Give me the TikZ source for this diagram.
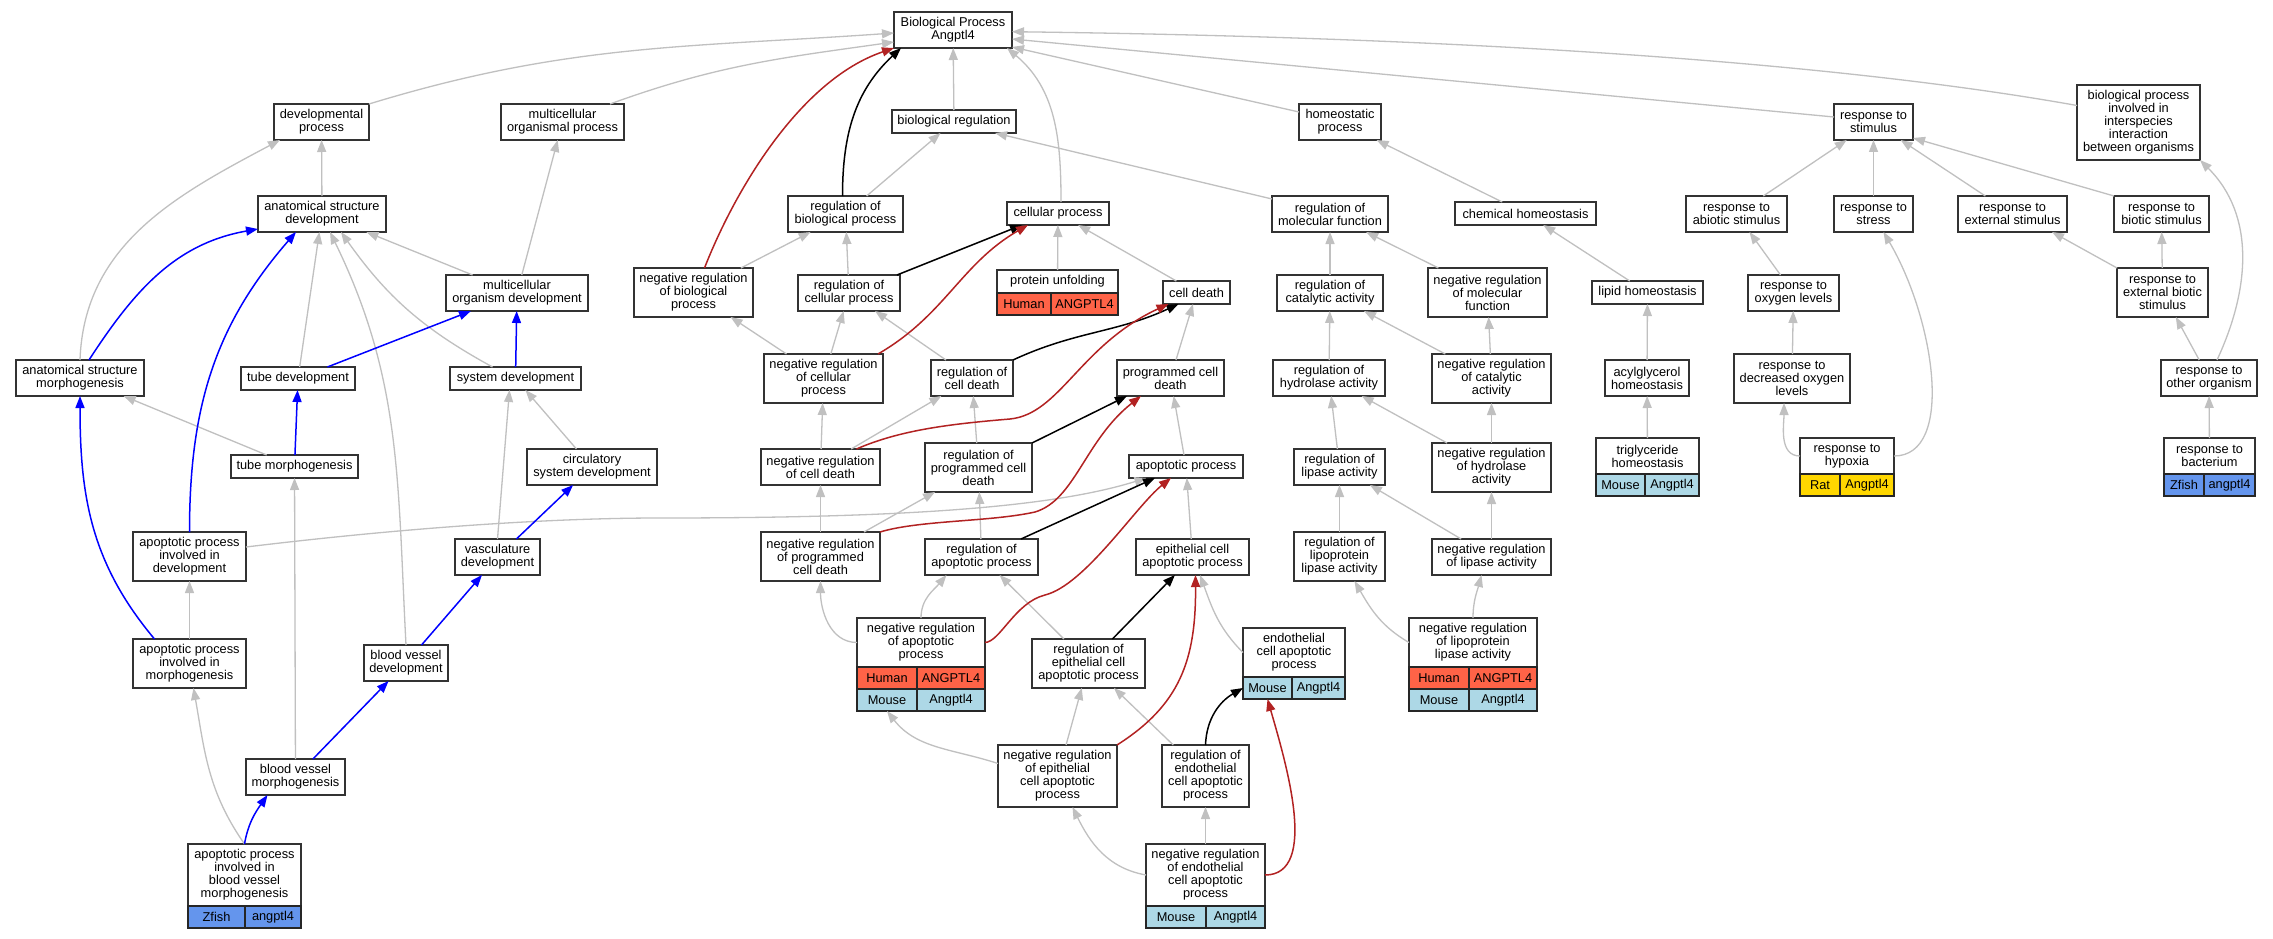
\documentclass[tikz,border=0pt]{standalone}
\usepackage{fontspec}
\setmainfont{Liberation Sans}
\usepackage{xcolor}
\usetikzlibrary{calc, arrows.meta}

\definecolor{edgegray}{RGB}{192,192,192}
\definecolor{negred}{RGB}{178,34,34}
\definecolor{humanfill}{RGB}{255,99,71}
\definecolor{mousefill}{RGB}{173,216,230}
\definecolor{zfishfill}{RGB}{100,149,237}
\definecolor{ratfill}{RGB}{255,215,0}
\newcommand{\lbl}{\fontsize{12.8}{13}\selectfont}

\tikzset{
  term/.style 2 args={draw=black!80, line width=2pt, fill=white, align=center,
    inner xsep=2pt, inner ysep=1pt, outer sep=0pt,
    minimum height={10+13*#1}, minimum width=#2, font=\lbl},
  gene/.style 2 args={draw=black!85, line width=2pt, fill=#1, minimum width=#2,
    minimum height=22, inner sep=0pt, outer sep=0pt, anchor=north west, font=\lbl},
  isa/.style={draw=edgegray, line width=1.3pt, -{Triangle[length=12pt,width=9pt]}},
  partof/.style={draw=blue, line width=1.5pt, -{Triangle[length=12pt,width=9pt]}},
  reg/.style={draw=black, line width=1.5pt, -{Triangle[length=12pt,width=9pt]}},
  negreg/.style={draw=negred, line width=1.5pt, -{Triangle[length=12pt,width=9pt]}}
}

\begin{document}
\begin{tikzpicture}[x=1pt, y=1pt]
\path[use as bounding box, fill=white] (0,0) rectangle (2273,-939);

\node[term={2}{118}] (bp) at (953,-30) {Biological Process\\Angptl4};

\node[term={2}{95}]  (devproc) at (321.5,-122) {developmental\\process};
\node[term={2}{123}] (mop) at (562.5,-122) {multicellular\\organismal process};
\node[term={1}{124}] (breg) at (954,-121.5) {biological regulation};
\node[term={2}{82}]  (homeo) at (1340,-122) {homeostatic\\process};
\node[term={2}{79}]  (rstim) at (1873.5,-122) {response to\\stimulus};
\node[term={5}{123}] (inter) at (2138.5,-122.5) {biological process\\involved in\\interspecies\\interaction\\between organisms};

\node[term={2}{128}] (asd) at (322,-214) {anatomical structure\\development};
\node[term={2}{115}] (rbp) at (845.5,-214) {regulation of\\biological process};
\node[term={1}{102}] (cellproc) at (1058,-213.5) {cellular process};
\node[term={2}{116}] (rmf) at (1330,-214) {regulation of\\molecular function};
\node[term={1}{141}] (chemhom) at (1525.5,-213.5) {chemical homeostasis};
\node[term={2}{101}] (rabio) at (1736.5,-214) {response to\\abiotic stimulus};
\node[term={2}{79}]  (rstress) at (1873.5,-214) {response to\\stress};
\node[term={2}{109}] (rext) at (2012.5,-214) {response to\\external stimulus};
\node[term={2}{95}]  (rbio) at (2161.5,-214) {response to\\biotic stimulus};

\node[term={2}{142}] (mod) at (517,-293) {multicellular\\organism development};
\node[term={3}{119}] (nrbp) at (693.5,-292.5) {negative regulation\\of biological\\process};
\node[term={2}{102}] (rcp) at (849,-293) {regulation of\\cellular process};
\node[term={1}{121}] (pu) at (1057.5,-281.5) {protein unfolding};
\node[term={1}{67}]  (celldeath) at (1196.5,-292.5) {cell death};
\node[term={2}{106}] (rca) at (1330,-293) {regulation of\\catalytic activity};
\node[term={3}{119}] (nrmf) at (1487.5,-292.5) {negative regulation\\of molecular\\function};
\node[term={1}{111}] (lipid) at (1647.5,-292.5) {lipid homeostasis};
\node[term={2}{91}]  (roxy) at (1793.5,-293) {response to\\oxygen levels};
\node[term={3}{91}]  (rebs) at (2162.5,-292.5) {response to\\external biotic\\stimulus};

\node[term={2}{128}] (asm) at (80,-378) {anatomical structure\\morphogenesis};
\node[term={1}{114}] (tubedev) at (298,-378.5) {tube development};
\node[term={1}{131}] (sysdev) at (515.5,-378.5) {system development};
\node[term={3}{119}] (nrcp) at (823.5,-378.5) {negative regulation\\of cellular\\process};
\node[term={2}{82}]  (rcd) at (972,-378) {regulation of\\cell death};
\node[term={2}{107}] (pcd) at (1170.5,-378) {programmed cell\\death};
\node[term={2}{112}] (rha) at (1329,-378) {regulation of\\hydrolase activity};
\node[term={3}{119}] (nrca) at (1491.5,-378.5) {negative regulation\\of catalytic\\activity};
\node[term={2}{84}]  (acyl) at (1647,-378) {acylglycerol\\homeostasis};
\node[term={3}{116}] (rdox) at (1792,-378.5) {response to\\decreased oxygen\\levels};
\node[term={2}{96}]  (rother) at (2209,-378) {response to\\other organism};

\node[term={1}{127}] (tubemorph) at (294.5,-466.5) {tube morphogenesis};
\node[term={2}{130}] (circ) at (592,-467) {circulatory\\system development};
\node[term={2}{119}] (nrcd) at (820.5,-467) {negative regulation\\of cell death};
\node[term={3}{107}] (rpcd) at (978.5,-467.5) {regulation of\\programmed cell\\death};
\node[term={1}{114}] (apop) at (1186,-466.5) {apoptotic process};
\node[term={2}{91}]  (rla) at (1339.5,-467) {regulation of\\lipase activity};
\node[term={3}{119}] (nrha) at (1491.5,-467.5) {negative regulation\\of hydrolase\\activity};
\node[term={2}{103}] (trig) at (1647.5,-456) {triglyceride\\homeostasis};
\node[term={2}{94}]  (hypox) at (1847,-456) {response to\\hypoxia};
\node[term={2}{91}]  (bact) at (2209.5,-456) {response to\\bacterium};

\node[term={3}{113}] (apdev) at (189.5,-556.5) {apoptotic process\\involved in\\development};
\node[term={2}{85}]  (vasc) at (497.5,-557) {vasculature\\development};
\node[term={3}{119}] (nrpcd) at (820.5,-556.5) {negative regulation\\of programmed\\cell death};
\node[term={2}{113}] (rap) at (981.5,-557) {regulation of\\apoptotic process};
\node[term={2}{113}] (epap) at (1192.5,-557) {epithelial cell\\apoptotic process};
\node[term={3}{91}]  (rlpl) at (1339.5,-556.5) {regulation of\\lipoprotein\\lipase activity};
\node[term={2}{119}] (nrla) at (1491.5,-557) {negative regulation\\of lipase activity};

\node[term={3}{113}] (apmorph) at (189.5,-663.5) {apoptotic process\\involved in\\morphogenesis};
\node[term={2}{84}]  (bvdev) at (406,-663) {blood vessel\\development};
\node[term={3}{128}] (nrap) at (921,-642.5) {negative regulation\\of apoptotic\\process};
\node[term={3}{113}] (repap) at (1088.5,-663.5) {regulation of\\epithelial cell\\apoptotic process};
\node[term={3}{102}] (ecap) at (1294,-652.5) {endothelial\\cell apoptotic\\process};
\node[term={3}{128}] (nrlpl) at (1473,-642.5) {negative regulation\\of lipoprotein\\lipase activity};

\node[term={2}{99}]  (bvmorph) at (295.5,-777) {blood vessel\\morphogenesis};
\node[term={4}{119}] (nrepap) at (1057.5,-776) {negative regulation\\of epithelial\\cell apoptotic\\process};
\node[term={4}{87}]  (rendap) at (1205.5,-776) {regulation of\\endothelial\\cell apoptotic\\process};

\node[term={4}{113}] (apbv) at (244.5,-875) {apoptotic process\\involved in\\blood vessel\\morphogenesis};
\node[term={4}{119}] (nrecap) at (1205.5,-875) {negative regulation\\of endothelial\\cell apoptotic\\process};

\node[gene={humanfill}{54}] (puh) at (pu.south west) {Human};
\node[gene={humanfill}{67}] (pug) at (puh.north east) {ANGPTL4};
\node[gene={humanfill}{60}] (nraph) at (nrap.south west) {Human};
\node[gene={humanfill}{68}] (nraphg) at (nraph.north east) {ANGPTL4};
\node[gene={mousefill}{60}] (nrapm) at (nraph.south west) {Mouse};
\node[gene={mousefill}{68}] (nrapmg) at (nrapm.north east) {Angptl4};
\node[gene={mousefill}{49}] (ecapm) at (ecap.south west) {Mouse};
\node[gene={mousefill}{53}] (ecapmg) at (ecapm.north east) {Angptl4};
\node[gene={mousefill}{60}] (nrecapm) at (nrecap.south west) {Mouse};
\node[gene={mousefill}{59}] (nrecapmg) at (nrecapm.north east) {Angptl4};
\node[gene={humanfill}{60}] (nrlplh) at (nrlpl.south west) {Human};
\node[gene={humanfill}{68}] (nrlplhg) at (nrlplh.north east) {ANGPTL4};
\node[gene={mousefill}{60}] (nrlplm) at (nrlplh.south west) {Mouse};
\node[gene={mousefill}{68}] (nrlplmg) at (nrlplm.north east) {Angptl4};
\node[gene={mousefill}{49}] (trigm) at (trig.south west) {Mouse};
\node[gene={mousefill}{54}] (trigmg) at (trigm.north east) {Angptl4};
\node[gene={ratfill}{40}] (hypoxr) at (hypox.south west) {Rat};
\node[gene={ratfill}{54}] (hypoxrg) at (hypoxr.north east) {Angptl4};
\node[gene={zfishfill}{40}] (bactz) at (bact.south west) {Zfish};
\node[gene={zfishfill}{51}] (bactzg) at (bactz.north east) {angptl4};
\node[gene={zfishfill}{57}] (apbvz) at (apbv.south west) {Zfish};
\node[gene={zfishfill}{56}] (apbvzg) at (apbvz.north east) {angptl4};

\draw[isa] (devproc.north east) to[out=17, in=184] ($(bp.west)+(0,-3)$);
\draw[isa] ($(mop.north east)+(-14,0)$) to[out=20, in=188] ($(bp.west)+(0,-12)$);
\draw[isa] (breg) -- (bp);
\draw[isa] ($(cellproc.north)+(3,0)$) to[out=90, in=-40] ($(bp.south east)+(-5,0)$);
\draw[isa] ($(homeo.west)+(0,10)$) -- ($(bp.east)+(0,-17)$);
\draw[isa] ($(rstim.west)+(0,5)$) -- ($(bp.east)+(0,-9)$);
\draw[isa] ($(inter.west)+(0,17)$) .. controls (1850,-65) and (1500,-38) .. ($(bp.east)+(0,-1.7)$);
\draw[isa] (asd) -- (devproc);
\draw[isa] (asm.north) to[out=88, in=208] ($(devproc.south west)+(6,0)$);
\draw[isa] (mod) -- (asd);
\draw[isa] (mod) -- (mop);
\draw[isa] (tubedev) -- (asd);
\draw[isa] ($(sysdev.north)+(-23,0)$) to[bend left=13] ($(asd.south)+(19,0)$);
\draw[isa] (bvdev.north) to[out=93, in=-64] ($(asd.south)+(8,0)$);
\draw[isa] (tubemorph) -- (asm);
\draw[isa] (circ) -- (sysdev);
\draw[isa] (vasc.north) -- ($(sysdev.south)+(-6,0)$);
\draw[isa] ($(apdev.east)+(0,9.5)$) .. controls (420,-526) and (560,-518) .. (660,-518)
  .. controls (900,-518) and (1050,-508) .. ($(apop.south west)+(17.5,0)$);
\draw[isa] (apmorph) -- (apdev);
\draw[isa] (bvmorph) -- (tubemorph);
\draw[isa] (apbv.north) to[out=125, in=-80] ($(apmorph.south)+(4,0)$);
\draw[isa] (rbp) -- (breg);
\draw[isa] ($(rmf.north west)+(0,-3)$) -- ($(breg.south east)+(-21,0)$);
\draw[isa] (nrbp) -- (rbp);
\draw[isa] (rcp) -- (rbp);
\draw[isa] (pu) -- (cellproc);
\draw[isa] (celldeath) -- (cellproc);
\draw[isa] (nrcp) -- (nrbp);
\draw[isa] (nrcp) -- (rcp);
\draw[isa] (rcd) -- (rcp);
\draw[isa] (pcd) -- (celldeath);
\draw[isa] (nrcd) -- (rcd);
\draw[isa] (nrcd) -- (nrcp);
\draw[isa] (rpcd) -- (rcd);
\draw[isa] (apop) -- (pcd);
\draw[isa] (nrpcd) -- (nrcd);
\draw[isa] (nrpcd) -- (rpcd);
\draw[isa] (rap) -- (rpcd);
\draw[isa] (epap) -- (apop);
\draw[isa] (nrap.west) to[out=180, in=-90] (nrpcd.south);
\draw[isa] (nrap.north) to[out=90, in=230] ($(rap.south)+(-35,0)$);
\draw[isa] (repap) -- (rap);
\draw[isa] ($(nrepap.west)+(0,12.5)$) to[out=162, in=-52] (nrapm.south);
\draw[isa] (nrepap) -- (repap);
\draw[isa] (rendap) -- (repap);
\draw[isa] (ecap.west) to[out=135, in=-70] ($(epap.south)+(7.5,0)$);
\draw[isa] (nrecap.west) to[out=170, in=-64] ($(nrepap.south)+(15,0)$);
\draw[isa] (nrecap) -- (rendap);
\draw[isa] (chemhom) -- (homeo);
\draw[isa] (rca) -- (rmf);
\draw[isa] (nrmf) -- (rmf);
\draw[isa] (lipid) -- (chemhom);
\draw[isa] (rha) -- (rca);
\draw[isa] (nrca) -- (rca);
\draw[isa] (nrca) -- (nrmf);
\draw[isa] (acyl) -- (lipid);
\draw[isa] (rla) -- (rha);
\draw[isa] (nrha) -- (rha);
\draw[isa] (nrha) -- (nrca);
\draw[isa] (trig) -- (acyl);
\draw[isa] (rlpl) -- (rla);
\draw[isa] (nrla) -- (rla);
\draw[isa] (nrla) -- (nrha);
\draw[isa] (nrlpl.west) to[out=150, in=-60] ($(rlpl.south)+(15,0)$);
\draw[isa] (nrlpl.north) to[out=90, in=-105] ($(nrla.south)+(-10,0)$);
\draw[isa] (rabio) -- (rstim);
\draw[isa] (rstress) -- (rstim);
\draw[isa] (rext) -- (rstim);
\draw[isa] (rbio.north west) -- ($(rstim.south east)+(0,2)$);
\draw[isa] (roxy) -- (rabio);
\draw[isa] (rdox) -- (roxy);
\draw[isa] (hypox.west) to[out=180, in=-90] ($(rdox.south)+(-8,0)$);
\draw[isa] (hypox.east) .. controls (1955,-456) and (1935,-320) .. ($(rstress.south)+(10,0)$);
\draw[isa] (rebs.north west) -- ($(rext.south east)+(-15,0)$);
\draw[isa] (rebs) -- (rbio);
\draw[isa] (rother) -- (rebs);
\draw[isa] ($(rother.north)+(8,0)$) to[out=65, in=-45] (inter.south east);
\draw[isa] (bact) -- (rother);

\draw[partof] ($(asm.north)+(9,0)$) to[out=57, in=190] ($(asd.west)+(0,-15)$);
\draw[partof] (apdev.north) to[out=90, in=229] ($(asd.south)+(-26,0)$);
\draw[partof] (tubedev) -- (mod);
\draw[partof] (sysdev) -- (mod);
\draw[partof] (tubemorph) -- (tubedev);
\draw[partof] ($(apmorph.north)+(-35,0)$) to[out=130, in=-90] (asm.south);
\draw[partof] (vasc) -- (circ);
\draw[partof] (bvdev) -- (vasc);
\draw[partof] (bvmorph) -- (bvdev);
\draw[partof] (apbv.north) to[out=80, in=235] ($(bvmorph.south)+(-28,0)$);

\draw[reg] ($(rbp.north)+(-3,0)$) to[out=90, in=223] ($(bp.south west)+(7,0)$);
\draw[reg] ($(rcp.north east)+(-3,0)$) -- ($(cellproc.south)+(-36,0)$);
\draw[reg] (rcd.north east) to[out=25, in=205] ($(celldeath.south)+(-18,0)$);
\draw[reg] (rpcd.north east) -- ($(pcd.south west)+(10,0)$);
\draw[reg] (rap) -- ($(apop.south west)+(26,0)$);
\draw[reg] (repap) -- (epap);
\draw[reg] (rendap.north) to[out=88, in=210] (ecapm.west);

\draw[negreg] ($(nrbp.north)+(11,0)$) .. controls (735,-190) and (800,-80) .. (bp.south west);
\draw[negreg] ($(nrcp.north east)+(-5,0)$) to[out=30, in=210] ($(cellproc.south)+(-30,0)$);
\draw[negreg] ($(nrcd.north)+(36,0)$) .. controls (900,-430) and (950,-424) .. (1010,-419)
  .. controls (1060,-414) and (1080,-345) .. ($(celldeath.south)+(-28,0)$);
\draw[negreg] (nrpcd.north east) .. controls (920,-520) and (990,-522) .. (1035,-512)
  .. controls (1075,-500) and (1085,-440) .. ($(pcd.south west)+(24,0)$);
\draw[negreg] (nrap.east) .. controls (1000,-642) and (1015,-602.5) .. (1045,-595)
  .. controls (1085,-585) and (1136,-506) .. ($(apop.south west)+(42,0)$);
\draw[negreg] (nrepap.north east) .. controls (1180,-705) and (1196,-660) .. ($(epap.south)+(3,0)$);
\draw[negreg] (nrecap.east) .. controls (1320,-875) and (1285,-760) .. (ecapm.south);
\end{tikzpicture}
\end{document}
